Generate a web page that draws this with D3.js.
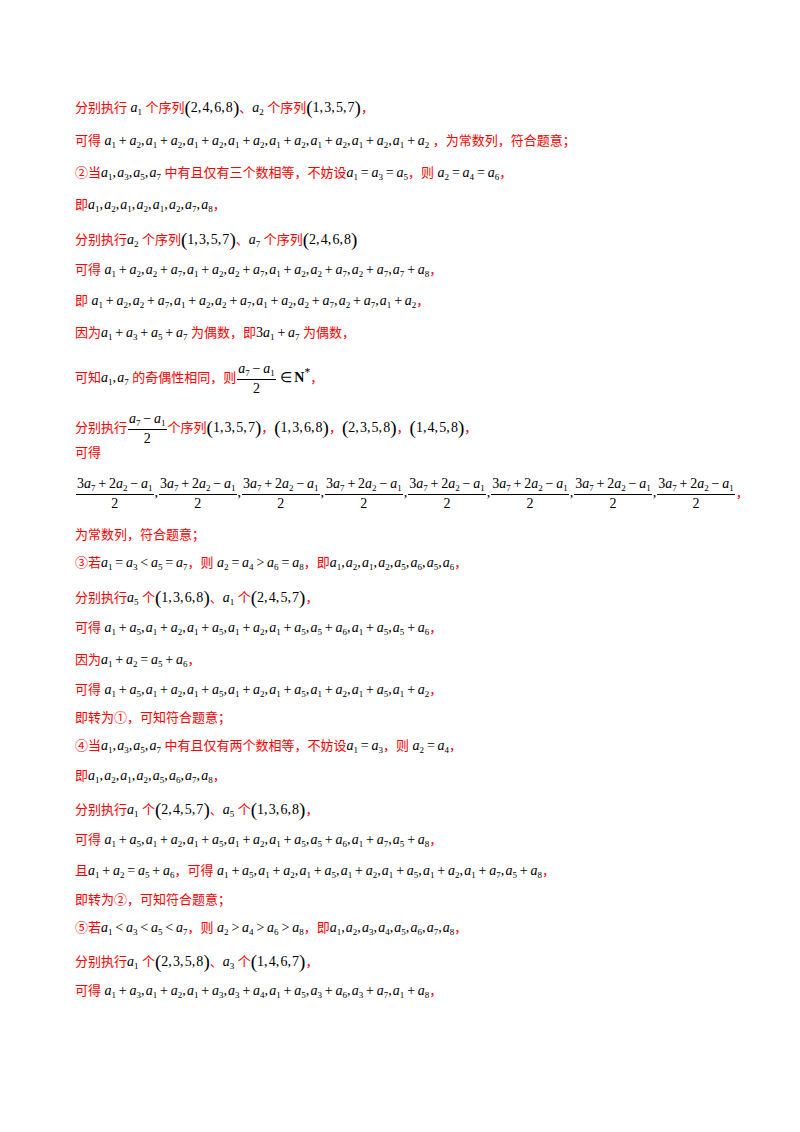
<!DOCTYPE html>
<html><head><meta charset="utf-8">
<script src="https://cdn.jsdelivr.net/npm/d3@7"></script>
<style>
body{margin:0;background:#fff;width:800px;height:1132px;position:relative;overflow:hidden}
.ln{position:absolute;left:75px;white-space:nowrap;font-size:13px;line-height:1}
.r{color:#f00;font-family:"Noto Sans CJK SC",sans-serif}
.m{font-family:"Liberation Serif",serif;color:#000;font-size:14px}
i{font-style:italic}
sub{font-size:9px;vertical-align:-3px;font-style:normal}
.p{font-size:19px;vertical-align:-2px}
.fr{display:inline-block;vertical-align:middle;text-align:center;font-family:"Liberation Serif",serif;font-size:14px;margin:0 1px}
.fr .n{border-bottom:1px solid #000;padding:0 1px 1px}
.fr .d{padding-top:2px}
</style></head><body>
<script>
const lines = [
 [108, [['r','分别执行'],['m',' a1 '],['r','个序列'],['m','(2,4,6,8)'],['r','、'],['m','a2 '],['r','个序列'],['m','(1,3,5,7)'],['r','，']]],
 [143, [['r','可得'],['m',' a1+a2,a1+a2,a1+a2,a1+a2,a1+a2,a1+a2,a1+a2,a1+a2 '],['r','，为常数列，符合题意；']]],
 [175, [['r','②当'],['m','a1,a3,a5,a7 '],['r','中有且仅有三个数相等，不妨设'],['m','a1=a3=a5'],['r','，则'],['m',' a2=a4=a6'],['r','，']]],
 [207, [['r','即'],['m','a1,a2,a1,a2,a1,a2,a7,a8'],['r','，']]],
 [240, [['r','分别执行'],['m','a2 '],['r','个序列'],['m','(1,3,5,7)'],['r','、'],['m','a7 '],['r','个序列'],['m','(2,4,6,8)']]],
 [272, [['r','可得'],['m',' a1+a2,a2+a7,a1+a2,a2+a7,a1+a2,a2+a7,a2+a7,a7+a8'],['r','，']]],
 [303, [['r','即'],['m',' a1+a2,a2+a7,a1+a2,a2+a7,a1+a2,a2+a7,a2+a7,a1+a2'],['r','，']]],
 [335, [['r','因为'],['m','a1+a3+a5+a7 '],['r','为偶数，即'],['m','3a1+a7 '],['r','为偶数，']]],
 [372, [['r','可知'],['m','a1,a7 '],['r','的奇偶性相同，则'],['f','a7−a1','2'],['m','∈<b>N</b><sup style="font-size:9px">*</sup>'],['r','，']]],
 [422, [['r','分别执行'],['f','a7−a1','2'],['r','个序列'],['m','(1,3,5,7)'],['r','，'],['m','(1,3,6,8)'],['r','，'],['m','(2,3,5,8)'],['r','，'],['m','(1,4,5,8)'],['r','，']]],
 [455, [['r','可得']]],
 [495, 'FR'],
 [537, [['r','为常数列，符合题意；']]],
 [565, [['r','③若'],['m','a1=a3&lt;a5=a7'],['r','，则'],['m',' a2=a4&gt;a6=a8'],['r','，即'],['m','a1,a2,a1,a2,a5,a6,a5,a6'],['r','，']]],
 [598, [['r','分别执行'],['m','a5 '],['r','个'],['m','(1,3,6,8)'],['r','、'],['m','a1 '],['r','个'],['m','(2,4,5,7)'],['r','，']]],
 [630, [['r','可得'],['m',' a1+a5,a1+a2,a1+a5,a1+a2,a1+a5,a5+a6,a1+a5,a5+a6'],['r','，']]],
 [662, [['r','因为'],['m','a1+a2=a5+a6'],['r','，']]],
 [692, [['r','可得'],['m',' a1+a5,a1+a2,a1+a5,a1+a2,a1+a5,a1+a2,a1+a5,a1+a2'],['r','，']]],
 [720, [['r','即转为①，可知符合题意；']]],
 [748, [['r','④当'],['m','a1,a3,a5,a7 '],['r','中有且仅有两个数相等，不妨设'],['m','a1=a3'],['r','，则'],['m',' a2=a4'],['r','，']]],
 [778, [['r','即'],['m','a1,a2,a1,a2,a5,a6,a7,a8'],['r','，']]],
 [810, [['r','分别执行'],['m','a1 '],['r','个'],['m','(2,4,5,7)'],['r','、'],['m','a5 '],['r','个'],['m','(1,3,6,8)'],['r','，']]],
 [842, [['r','可得'],['m',' a1+a5,a1+a2,a1+a5,a1+a2,a1+a5,a5+a6,a1+a7,a5+a8'],['r','，']]],
 [873, [['r','且'],['m','a1+a2=a5+a6'],['r','，可得'],['m',' a1+a5,a1+a2,a1+a5,a1+a2,a1+a5,a1+a2,a1+a7,a5+a8'],['r','，']]],
 [902, [['r','即转为②，可知符合题意；']]],
 [930, [['r','⑤若'],['m','a1&lt;a3&lt;a5&lt;a7'],['r','，则'],['m',' a2&gt;a4&gt;a6&gt;a8'],['r','，即'],['m','a1,a2,a3,a4,a5,a6,a7,a8'],['r','，']]],
 [962, [['r','分别执行'],['m','a1 '],['r','个'],['m','(2,3,5,8)'],['r','、'],['m','a3 '],['r','个'],['m','(1,4,6,7)'],['r','，']]],
 [993, [['r','可得'],['m',' a1+a3,a1+a2,a1+a3,a3+a4,a1+a5,a3+a6,a3+a7,a1+a8'],['r','，']]]
];
const fracNum = '3a7+2a2−a1', fracDen = '2', fracCount = 8;

function math(s){
  return s.replace(/a(\d)/g,'<i>a</i><sub>$1</sub>')
    .replace(/([+=−∈]|&lt;|&gt;)/g,'&#8201;$1&#8201;')
    .replace(/,/g,',&#8202;')
    .replace(/([()])/g,'<span class="p">$1</span>');
}
function frac(n,d){return `<span class="fr"><div class="n">${math(n)}</div><div class="d">${d}</div></span>`;}
const body=d3.select('body');
lines.forEach(([y,segs])=>{
  const div=body.append('div').attr('class','ln').style('top',(y-10)+'px');
  if(segs==='FR'){
    div.style('top',(y-18)+'px');
    let h='';
    for(let i=0;i<fracCount;i++){h+=frac(fracNum,fracDen)+(i<fracCount-1?'<span class="m">,</span>':'<span class="r">，</span>');}
    div.html(h);return;
  }
  div.html(segs.map(s=>s[0]==='r'?`<span class="r">${s[1]}</span>`:s[0]==='m'?`<span class="m">${math(s[1])}</span>`:frac(s[1],s[2])).join(''));
});
</script></body></html>
